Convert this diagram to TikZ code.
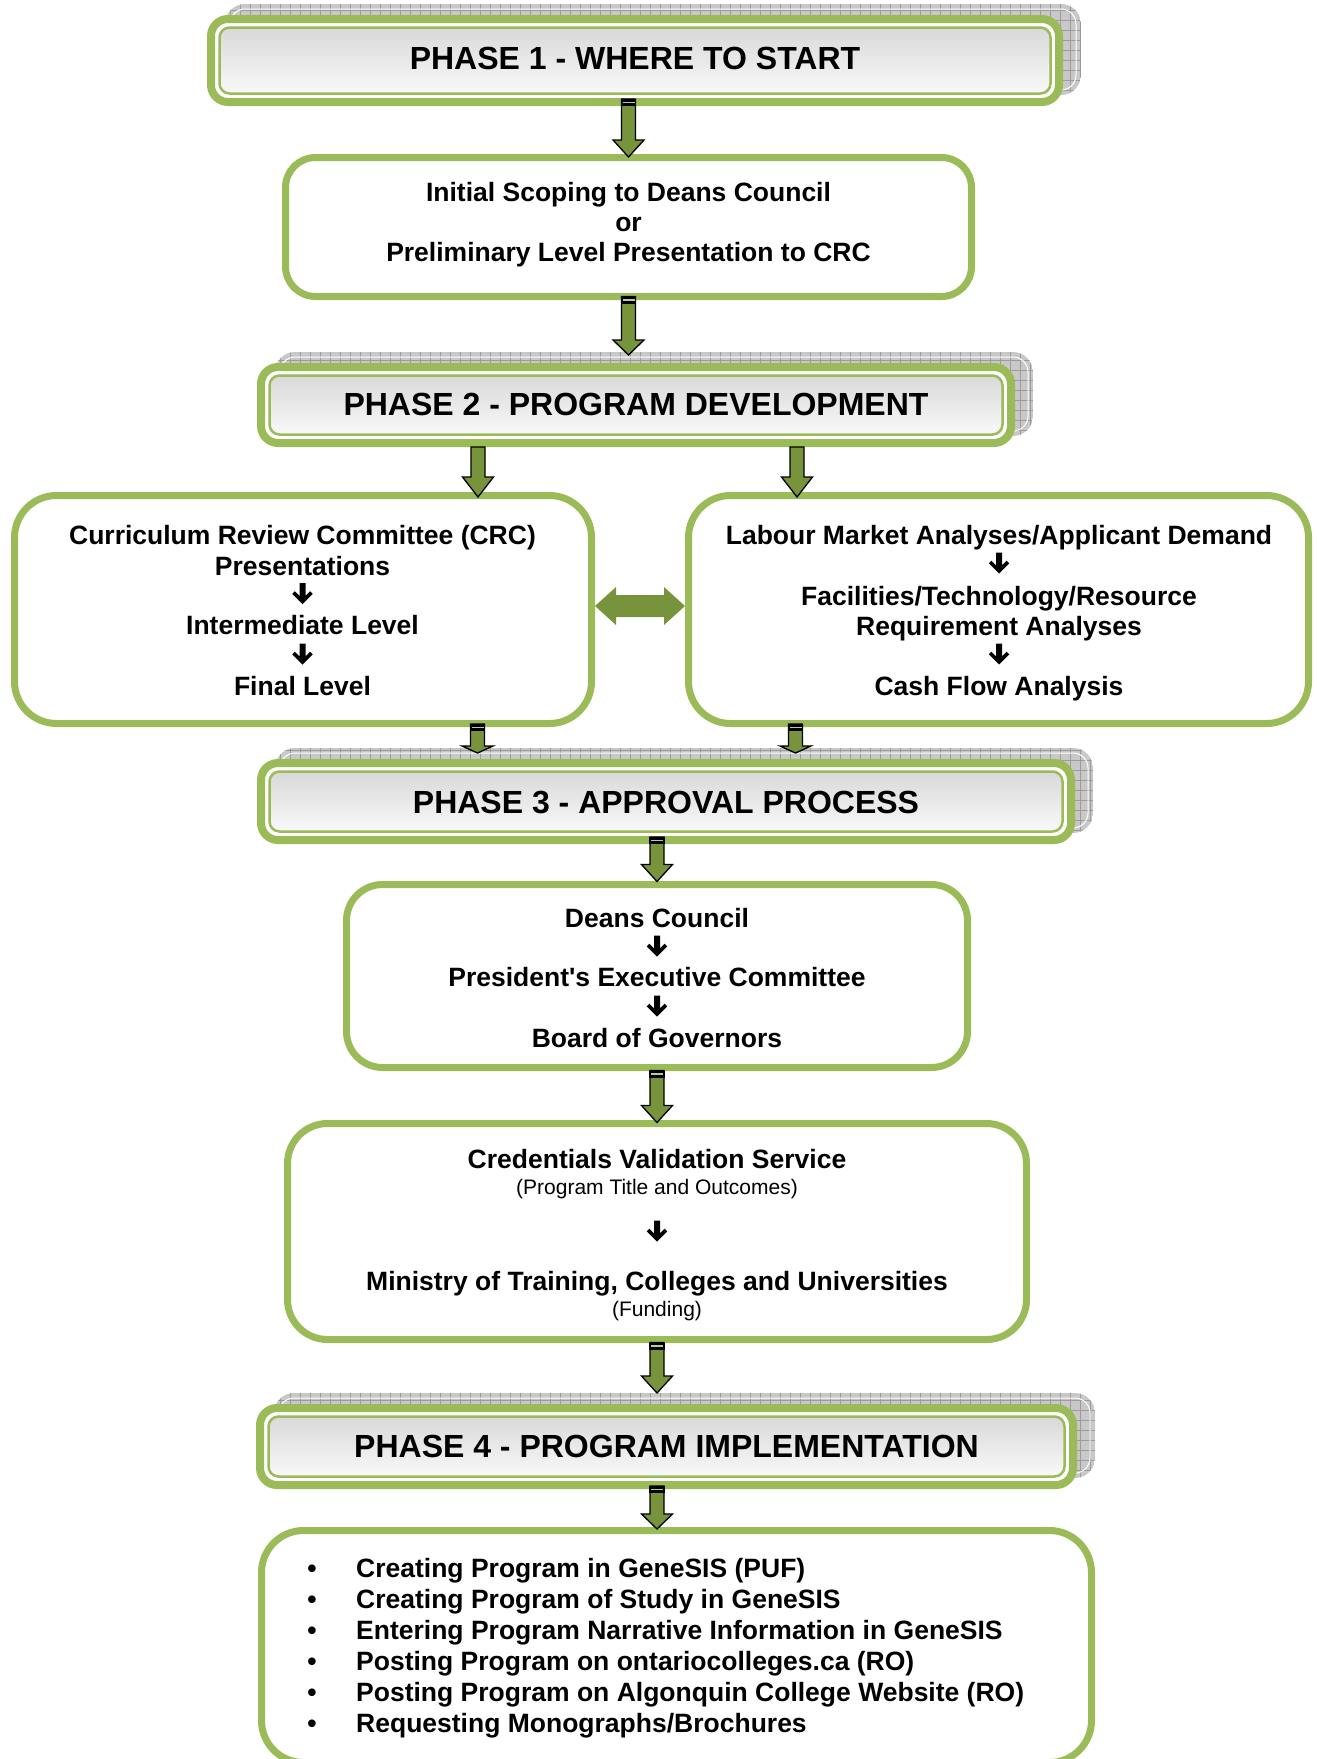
\documentclass[tikz,border=0pt]{standalone}
\usepackage{fontspec}
\setmainfont{Liberation Sans}
\usetikzlibrary{calc,backgrounds}
\definecolor{gborder}{HTML}{9BBB59}
\definecolor{garrow}{HTML}{77933C}
\definecolor{shgray}{HTML}{C8C8C8}
\definecolor{shgrid}{HTML}{9C9C9C}
\newcommand\bodyfont{\fontsize{26.5}{30}\selectfont\bfseries}
\newcommand\headfont{\fontsize{32}{36}\selectfont\bfseries}
\newcommand\smallfont{\fontsize{21}{25}\selectfont}
\tikzset{
  box/.style={draw=gborder, line width=7pt, rounded corners=26pt, fill=white, inner sep=0pt, outer sep=0pt},
  phase/.style={draw=gborder, line width=8pt, rounded corners=17pt, inner sep=0pt, outer sep=0pt},
  htext/.style={font=\headfont, inner sep=0pt, anchor=center},
  btext/.style={font=\bodyfont, inner sep=0pt, anchor=base},
  stext/.style={font=\smallfont, inner sep=0pt, anchor=base},
  arrowst/.style={fill=garrow, draw=black, line width=1.3pt, line join=miter},
}
\newcommand\phasedeco[1]{%
  \begin{scope}[on background layer]
    \begin{scope}
      \clip[rounded corners=20pt] ([shift={(14,-15)}]#1.north west) rectangle ([shift={(22,-7)}]#1.south east);
      \fill[shgray] ([shift={(14,-15)}]#1.north west) rectangle ([shift={(22,-7)}]#1.south east);
      \draw[shgrid, line width=0.7pt, step=10pt] ([shift={(14,-15)}]#1.north west) grid ([shift={(22,-7)}]#1.south east);
    \end{scope}
    \draw[white, line width=1pt, rounded corners=15pt] ([shift={(19,-10)}]#1.north west) rectangle ([shift={(17,-12)}]#1.south east);
    \fill[white, rounded corners=17pt] (#1.north west) rectangle (#1.south east);
    \draw[gborder, line width=2.5pt, rounded corners=10pt, top color=gray!30, bottom color=gray!5] ([shift={(8.5,8.5)}]#1.north west) rectangle ([shift={(-8.5,-8.5)}]#1.south east);
  \end{scope}}
\newcommand\garrshape[3]{%
  \draw[arrowst] let \p1=#1, \p2=#2 in
   (\x1-7pt,\y1) -- (\x1+7pt,\y1) -- (\x1+7pt,\y2+#3pt) -- (\x1+15.5pt,\y2+#3pt) -- (\x1,\y2) -- (\x1-15.5pt,\y2+#3pt) -- (\x1-7pt,\y2+#3pt) -- cycle;}
\newcommand\garr[3]{\garrshape{#1}{#2}{#3}%
  \fill[black] let \p1=#1 in (\x1-7.6pt,\y1) rectangle (\x1+7.6pt,\y1-7pt);
  \draw[garrow!50!white, line width=1.4pt] let \p1=#1 in (\x1-6pt,\y1-3.5pt) -- (\x1+6pt,\y1-3.5pt);}
\newcommand\dblarr[2]{%
  \fill[garrow] let \p1=#1, \p2=#2 in (\x1,\y1) -- (\x1+21pt,\y1+19pt) -- (\x1+21pt,\y1+11pt) -- (\x2-21pt,\y1+11pt) -- (\x2-21pt,\y1+19pt) -- (\x2,\y1) -- (\x2-21pt,\y1-19pt) -- (\x2-21pt,\y1-11pt) -- (\x1+21pt,\y1-11pt) -- (\x1+21pt,\y1-19pt) -- cycle;}
\newcommand\minidown[2]{\fill[black, shift={(#1,#2)}] (-3,-10.5) -- (3,-10.5) -- (3,2.3) -- (7.6,-2.3) -- (10.2,0.3) -- (0,10.5) -- (-10.2,0.3) -- (-7.6,-2.3) -- (-3,2.3) -- cycle;}
\begin{document}
\begin{tikzpicture}[x=1pt,y=-1pt]
\useasboundingbox (0,0) rectangle (1317,1759);

% ---------- PHASE 1
\node[phase, minimum width=848pt, minimum height=83pt] (p1) at (635,60.5) {};
\phasedeco{p1}
\node[htext] (p1t) at (635,58.5) {PHASE 1 - WHERE TO START};

\node[box, rounded corners=30pt, minimum width=686pt, minimum height=139pt] (b1) at (628.5,227) {};
\node[btext] (b1a) at (628.5,201.5) {Initial Scoping to Deans Council};
\node[btext] (b1b) at (628.5,231.5) {or};
\node[btext] (b1c) at (628.5,261.5) {Preliminary Level Presentation to CRC};

% ---------- PHASE 2
\node[phase, minimum width=750pt, minimum height=76pt] (p2) at (636,405) {};
\phasedeco{p2}
\node[htext] (p2t) at (636,404) {PHASE 2 - PROGRAM DEVELOPMENT};

\node[box, rounded corners=42pt, minimum width=577pt, minimum height=228pt] (L) at (303,609.5) {};
\node[btext] (La) at (302.5,544.5) {Curriculum Review Committee (CRC)};
\node[btext] (Lb) at (302.5,575) {Presentations};
\minidown{302.5}{593.5}
\node[btext] (Lc) at (302.5,634.5) {Intermediate Level};
\minidown{302.5}{654}
\node[btext] (Ld) at (302.5,695) {Final Level};

\node[box, rounded corners=42pt, minimum width=620pt, minimum height=228pt] (R) at (998.5,609.5) {};
\node[btext] (Ra) at (999,544.5) {Labour Market Analyses/Applicant Demand};
\minidown{999}{563}
\node[btext] (Rb) at (999,605) {Facilities/Technology/Resource};
\node[btext] (Rc) at (999,635.5) {Requirement Analyses};
\minidown{999}{654}
\node[btext] (Rd) at (999,695) {Cash Flow Analysis};

% ---------- PHASE 3
\node[phase, minimum width=810pt, minimum height=77pt] (p3) at (666,801.5) {};
\phasedeco{p3}
\node[htext] (p3t) at (666,802) {PHASE 3 - APPROVAL PROCESS};

\node[box, rounded corners=36pt, minimum width=621pt, minimum height=183pt] (b3) at (657,976) {};
\node[btext] (b3a) at (657,927) {Deans Council};
\minidown{657}{946}
\node[btext] (b3b) at (657,986.5) {President\textquotesingle s Executive Committee};
\minidown{657}{1006}
\node[btext] (b3c) at (657,1047) {Board of Governors};

\node[box, rounded corners=40pt, minimum width=739pt, minimum height=216pt] (b4) at (657,1231.5) {};
\node[btext] (b4a) at (657,1168.5) {Credentials Validation Service};
\node[stext] (b4b) at (657,1194) {(Program Title and Outcomes)};
\minidown{657}{1231}
\node[btext] (b4c) at (657,1290.5) {Ministry of Training, Colleges and Universities};
\node[stext] (b4d) at (657,1316.5) {(Funding)};

% ---------- PHASE 4
\node[phase, minimum width=813pt, minimum height=77pt] (p4) at (666.5,1446.5) {};
\phasedeco{p4}
\node[htext] (p4t) at (666.5,1446) {PHASE 4 - PROGRAM IMPLEMENTATION};

\node[box, rounded corners=42pt, minimum width=830pt, minimum height=232pt] (b5) at (676.5,1646.5) {};
\foreach \t [count=\i] in {{Creating Program in GeneSIS (PUF)},{Creating Program of Study in GeneSIS},{Entering Program Narrative Information in GeneSIS},{Posting Program on ontariocolleges.ca (RO)},{Posting Program on Algonquin College Website (RO)},{Requesting Monographs/Brochures}}{
  \node[btext] (bu\i) at (312,{1577.5+31*(\i-1)}) {\textbullet};
  \node[btext, anchor=base west] (li\i) at (356,{1577.5+31*(\i-1)}) {\t};
}

% ---------- connectors
\garr{($(p1.south -| b1.north)+(0,-3)$)}{($(b1.north)+(0,-0.5)$)}{17}
\garr{(b1.south)}{($(p2.north)+(0,-12)$)}{15}
\garrshape{($(p2.south west)+(217,4)$)}{($(L.north)+(0,1.5)$)}{20}
\garrshape{($(p2.south west)+(536,4)$)}{($(R.north)+(0,1.5)$)}{20}
\garr{($(L.south west)+(463,0.5)$)}{($(p3.north)+(0,-10)$)}{7}
\garr{($(R.south west)+(107,0.5)$)}{($(p3.north)+(0,-10)$)}{7}
\garr{($(p3.south -| b3.north)+(0,-3)$)}{($(b3.north)+(0,-3)$)}{17}
\garr{($(b3.south)+(0,3)$)}{($(b4.north)+(0,-1)$)}{17}
\garr{($(b4.south)+(0,3)$)}{($(p4.north)+(0,-15)$)}{17}
\garr{($(p4.south -| b4.south)+(0,1)$)}{($(b5.north)+(0,-1.5)$)}{15}
\dblarr{($(L.east)+(3.5,-3.5)$)}{($(R.west)+(-3.5,-3.5)$)}
\end{tikzpicture}
\end{document}
